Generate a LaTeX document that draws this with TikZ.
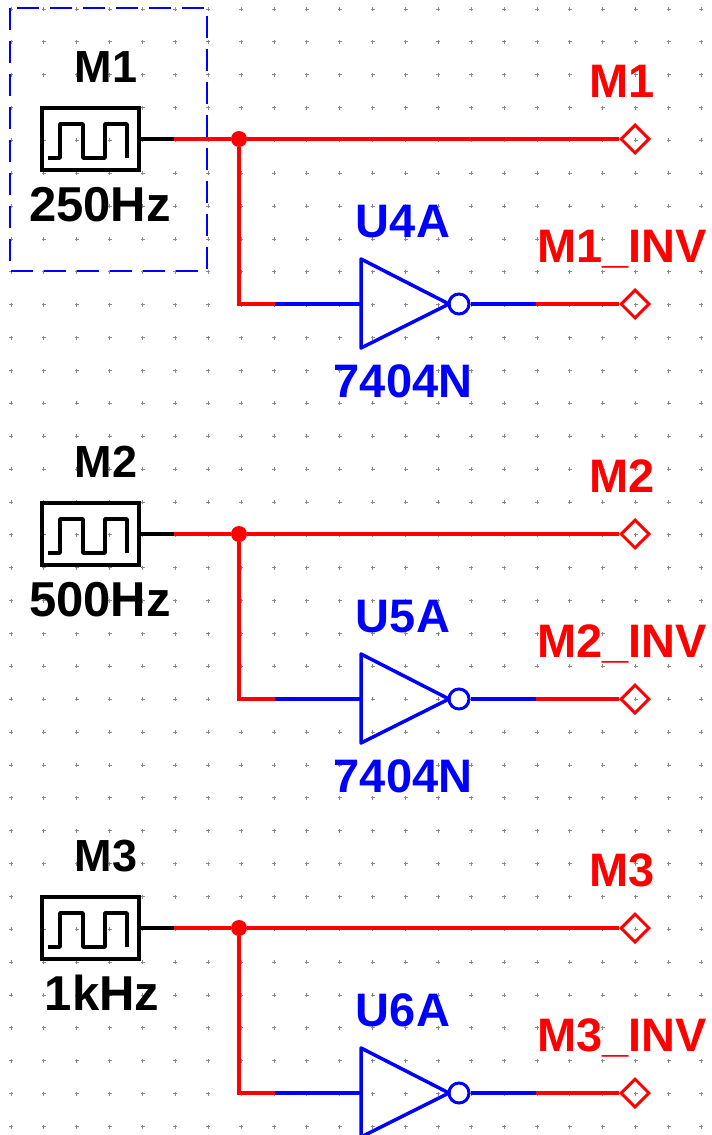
\documentclass[tikz,border=0pt]{standalone}
\usepackage{fontspec}
\setmainfont{Liberation Sans}
\usetikzlibrary{shapes.geometric}
\definecolor{wirered}{RGB}{255,0,0}
\definecolor{partblue}{RGB}{0,0,255}
\definecolor{griddot}{RGB}{140,140,140}
\tikzset{
	gridmark/.style={griddot, line width=1pt},
	wirepart/.style={line width=3.8pt},
	labeltext/.style={anchor=base, inner sep=0pt, font=\fontsize{47}{47}\selectfont\bfseries},
	clockbox/.style={draw=black, line width=4pt, inner sep=0pt, minimum width=97pt, minimum height=62pt},
	junction/.style={circle, fill=wirered, inner sep=0pt, minimum size=16pt},
	probe/.style={diamond, draw=wirered, line width=3pt, inner sep=0pt, minimum width=29pt, minimum height=29pt},
	bubble/.style={circle, draw=partblue, line width=3pt, inner sep=0pt, minimum size=20pt}
}
% #1 = offset, #2 = net, #3 = frequency, #4 = part
\def\clockchannel[#1](#2)(#3)(#4){
	\begin{scope}[shift={(0,#1)}]
		\node[labeltext, font=\fontsize{45}{45}\selectfont\bfseries] (name#2) at (106, 82) {#2};
		\node[labeltext, font=\fontsize{49}{49}\selectfont\bfseries] (freq#2) at (#3) {\freqtext};
		\node[clockbox] (clk#2) at (90.5, 139) {};
		\draw[line width=3.5pt, line join=round] (48, 158) -- (60, 158) -- (60, 124) -- (83, 124) -- (83, 158) -- (105, 158) -- (105, 124) -- (127, 124) -- (127, 158);
		
		\coordinate (wire#2) at (174, 139);
		\node[junction] (jct#2) at (239, 139) {};
		\node[probe] (out#2) at (635, 139) {};
		\node[labeltext] at (622, 97) [wirered] (net#2) {#2};
		\draw[wirepart] (clk#2.east) -- (wire#2);
		\draw[wirepart, wirered] (wire#2) -- (jct#2) -- (out#2.west);
		
		\coordinate (corner#2) at (239, 304);
		\coordinate (split#2) at (275, 304);
		\coordinate (in#2) at (361, 304);
		\coordinate (apex#2) at (449, 304);
		\node[bubble] (bub#2) at (459, 304) {};
		\draw[line width=3.5pt, partblue, line join=round] (361, 259) -- (apex#2) -- (361, 348) -- cycle;
		\draw[wirepart, wirered] (jct#2) -- (corner#2) -- (split#2);
		\draw[wirepart, partblue] (split#2) -- (in#2);
		
		\coordinate (mid#2) at (536, 304);
		\node[probe] (inv#2) at (635, 304) {};
		\draw[wirepart, partblue] (bub#2.east) -- (mid#2);
		\draw[wirepart, wirered] (mid#2) -- (inv#2.west);
		\node[labeltext, partblue] (part#2) at (403, 237) {#4};
		\node[labeltext, wirered] (netinv#2) at (622, 262) {#2\_INV};
	\end{scope}
}

\begin{document}
\begin{tikzpicture}[x=1pt, y=-1pt]
		\useasboundingbox (0, 0) rectangle (712, 1135);
		\clip (0, 0) rectangle (712, 1135);
		
		%%%%% grid %%%%%
		\foreach \i in {0,...,21} {
			\foreach \j in {0,...,34} {
				\pgfmathsetmacro{\gx}{11+32.88*\i}
				\pgfmathsetmacro{\gy}{9+32.87*\j}
				\draw[gridmark] (\gx-2, \gy) -- (\gx+2, \gy) (\gx, \gy-2) -- (\gx, \gy+2);
			}
		}
		
		\draw[partblue, line width=1.5pt, dash pattern=on 22pt off 11pt] (10, 8) rectangle (207, 271);
		
		%%%%% channels %%%%%
		\def\freqtext{250Hz}
		\clockchannel[0](M1)(100, 221)(U4A)
		\def\freqtext{500Hz}
		\clockchannel[395](M2)(100, 221)(U5A)
		\def\freqtext{1kHz}
		\clockchannel[789](M3)(102, 221)(U6A)
		
		\node[labeltext, partblue] (typeU4A) at (403, 397) {7404N};
		\node[labeltext, partblue] (typeU5A) at (403, 792) {7404N};
	\end{tikzpicture}
\end{document}
